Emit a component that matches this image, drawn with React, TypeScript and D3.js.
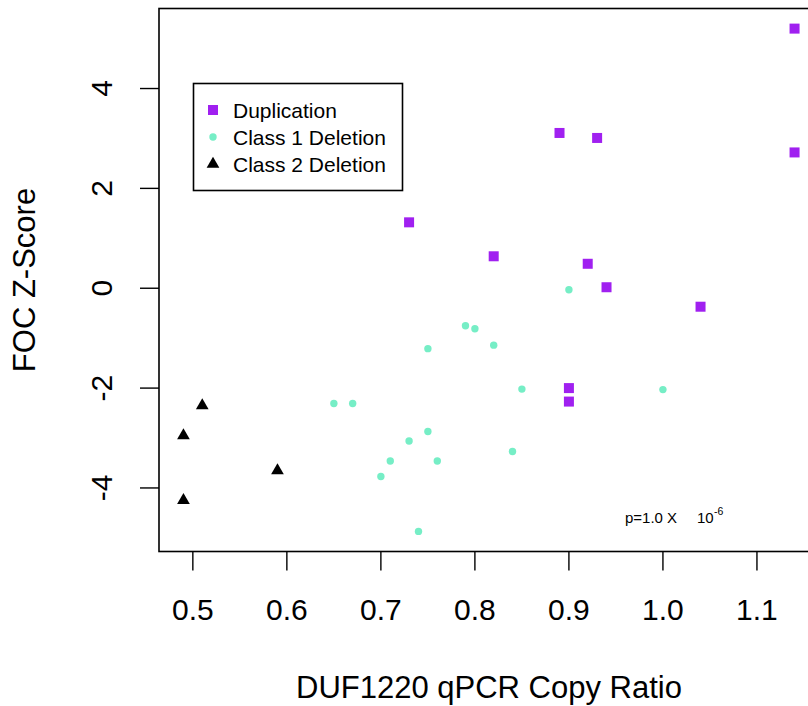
import React, { useEffect, useRef } from 'react';
import * as d3 from 'd3';

// Duplication (purple squares)
const dupX = [1.14, 1.14, 0.89, 0.93, 0.73, 0.82, 0.92, 0.94, 1.04, 0.90, 0.90];
const dupY = [5.2, 2.72, 3.11, 3.01, 1.32, 0.64, 0.49, 0.02, -0.37, -2.0, -2.27];

// Class 1 Deletion (aquamarine circles)
const del1X = [0.90, 0.79, 0.80, 0.82, 0.75, 0.85, 1.00, 0.65, 0.67, 0.75, 0.73, 0.71, 0.76, 0.70, 0.84, 0.74];
const del1Y = [-0.03, -0.75, -0.81, -1.14, -1.21, -2.02, -2.03, -2.31, -2.31, -2.87, -3.06, -3.46, -3.46, -3.77, -3.27, -4.87];

// Class 2 Deletion (black triangles)
const del2X = [0.51, 0.49, 0.59, 0.49];
const del2Y = [-2.35, -2.95, -3.65, -4.25];

const xTicks = [0.5, 0.6, 0.7, 0.8, 0.9, 1.0, 1.1];
const yTicks = [-4, -2, 0, 2, 4];

const legendLabels = ['Duplication', 'Class 1 Deletion', 'Class 2 Deletion'];
const purple = '#A020F0';
const aqua = '#76EEC6';
const font = "'Liberation Sans', Arial, Helvetica, sans-serif";

// R style axis range: data extent padded 4% each side
function rRange(vals: number[]): [number, number] {
  const [lo, hi] = d3.extent(vals) as [number, number];
  const pad = (hi - lo) * 0.04;
  return [lo - pad, hi + pad];
}

export default function App() {
  const ref = useRef<SVGSVGElement>(null);

  useEffect(() => {
    const width = 808;
    const height = 706;
    const box = { left: 159, top: 8.5, right: 819, bottom: 551.5 };

    const svg = d3.select(ref.current);
    svg.selectAll('*').remove();

    const x = d3.scaleLinear()
      .domain(rRange(dupX.concat(del1X, del2X)))
      .range([box.left, box.right]);
    const y = d3.scaleLinear()
      .domain(rRange(dupY.concat(del1Y, del2Y)))
      .range([box.bottom, box.top]);

    svg.attr('width', width).attr('height', height);

    // plot frame
    svg.append('rect')
      .attr('x', box.left).attr('y', box.top)
      .attr('width', box.right - box.left).attr('height', box.bottom - box.top)
      .attr('fill', 'none').attr('stroke', '#000').attr('stroke-width', 1.6);

    // x axis
    const xa = svg.append('g');
    xa.selectAll('line').data(xTicks).enter().append('line')
      .attr('x1', (d) => x(d)).attr('x2', (d) => x(d))
      .attr('y1', box.bottom).attr('y2', box.bottom + 19)
      .attr('stroke', '#000').attr('stroke-width', 1.4);
    xa.selectAll('text').data(xTicks).enter().append('text')
      .attr('x', (d) => x(d)).attr('y', 620)
      .attr('text-anchor', 'middle')
      .style('font-family', font).style('font-size', '30px')
      .text((d) => d3.format('.1f')(d));

    // y axis
    const ya = svg.append('g');
    ya.selectAll('line').data(yTicks).enter().append('line')
      .attr('x1', box.left - 19).attr('x2', box.left)
      .attr('y1', (d) => y(d)).attr('y2', (d) => y(d))
      .attr('stroke', '#000').attr('stroke-width', 1.4);
    ya.selectAll('text').data(yTicks).enter().append('text')
      .attr('transform', (d) => `translate(112, ${y(d)}) rotate(-90)`)
      .attr('text-anchor', 'middle')
      .style('font-family', font).style('font-size', '30px')
      .text((d) => String(d));

    // axis titles
    svg.append('text')
      .attr('x', (box.left + box.right) / 2).attr('y', 698)
      .attr('text-anchor', 'middle')
      .style('font-family', font).style('font-size', '31px')
      .text('DUF1220 qPCR Copy Ratio');
    svg.append('text')
      .attr('transform', `translate(35, ${(box.top + box.bottom) / 2}) rotate(-90)`)
      .attr('text-anchor', 'middle')
      .style('font-family', font).style('font-size', '31px')
      .text('FOC Z-Score');

    const pts = svg.append('g');
    const sq = 10;
    const tri = d3.symbol().type(d3.symbolTriangle).size(70);

    pts.selectAll('circle').data(d3.zip(del1X, del1Y)).enter().append('circle')
      .attr('cx', (d) => x(d[0])).attr('cy', (d) => y(d[1]))
      .attr('r', 3.7).attr('fill', aqua);

    pts.selectAll('rect').data(d3.zip(dupX, dupY)).enter().append('rect')
      .attr('x', (d) => x(d[0]) - sq / 2).attr('y', (d) => y(d[1]) - sq / 2)
      .attr('width', sq).attr('height', sq).attr('fill', purple);

    pts.selectAll('path').data(d3.zip(del2X, del2Y)).enter().append('path')
      .attr('d', tri)
      .attr('transform', (d) => `translate(${x(d[0])}, ${y(d[1])})`)
      .attr('fill', '#000');

    // legend
    const lg = svg.append('g');
    lg.append('rect')
      .attr('x', 193.5).attr('y', 83.5).attr('width', 209).attr('height', 107)
      .attr('fill', '#fff').attr('stroke', '#000').attr('stroke-width', 1.6);
    const rows = [110, 137, 164];
    lg.append('rect').attr('x', 213 - 5).attr('y', rows[0] - 5)
      .attr('width', sq).attr('height', sq).attr('fill', purple);
    lg.append('circle').attr('cx', 213).attr('cy', rows[1]).attr('r', 3.7).attr('fill', aqua);
    lg.append('path').attr('d', tri).attr('transform', `translate(213, ${rows[2]})`).attr('fill', '#000');
    lg.selectAll('text').data(legendLabels).enter().append('text')
      .attr('x', 233).attr('y', (d, i) => rows[i] + 7.5)
      .style('font-family', font).style('font-size', '21px')
      .text((d) => d);

    // p-value annotation
    const pv = svg.append('g').style('font-family', font);
    pv.append('text').attr('x', 625).attr('y', 523).style('font-size', '15px').text('p=1.0 X');
    pv.append('text').attr('x', 697).attr('y', 523).style('font-size', '15px').text('10');
    pv.append('text').attr('x', 714).attr('y', 515).style('font-size', '10.5px').text('-6');
  }, []);

  return (
    <div style={{ position: 'absolute', left: 0, top: 0 }}>
      <svg ref={ref} style={{ display: 'block' }} />
    </div>
  );
}
